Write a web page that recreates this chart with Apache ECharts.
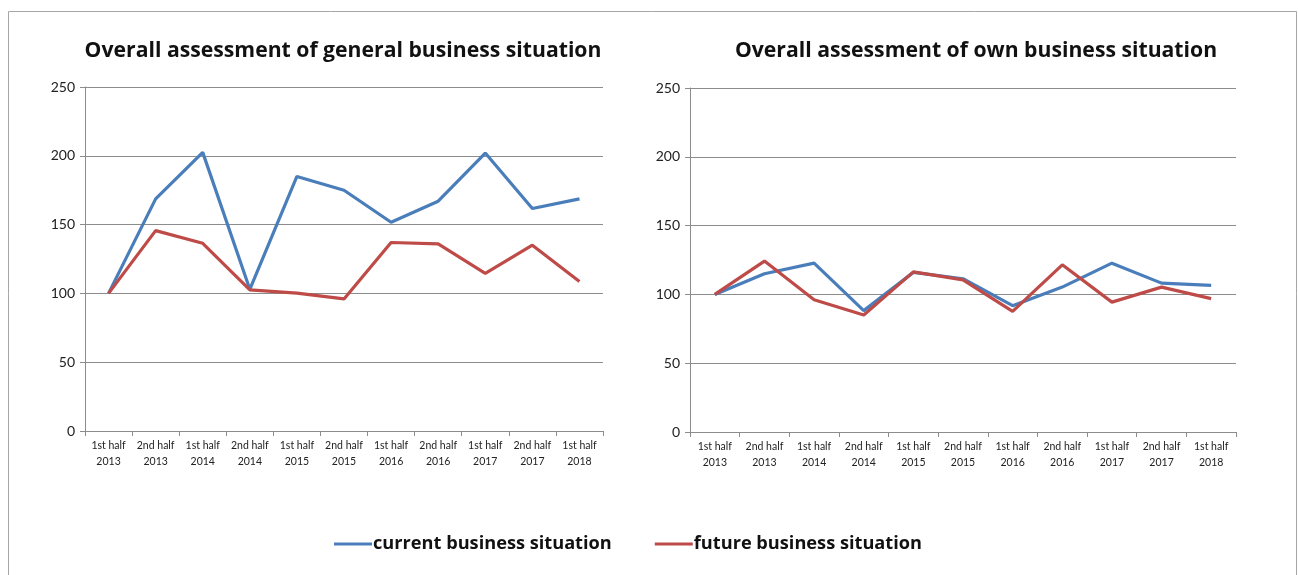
<!DOCTYPE html>
<html>
<head>
<meta charset="utf-8">
<script src="https://cdn.jsdelivr.net/npm/echarts@6/dist/echarts.min.js"></script>
<style>html,body{margin:0;padding:0;background:#fff;}#c{width:1298px;height:575px;}</style>
</head>
<body>
<div id="c"></div>
<script>
var categories = ['1st half\n2013','2nd half\n2013','1st half\n2014','2nd half\n2014','1st half\n2015','2nd half\n2015','1st half\n2016','2nd half\n2016','1st half\n2017','2nd half\n2017','1st half\n2018'];
var generalCurrent = [100, 168.7, 202.5, 103, 185, 175, 151.7, 167, 202, 161.7, 168.7];
var generalFuture = [100, 145.6, 136.4, 102.5, 100.2, 96, 137, 136, 114.6, 135, 108.7];
var ownCurrent = [100, 115, 122.7, 88.2, 116, 111.4, 91.8, 105.3, 122.7, 108.2, 106.5];
var ownFuture = [100, 124.2, 96.1, 85, 116.4, 110.6, 87.7, 121.5, 94.4, 105.3, 96.9];
var yTicks = {min: 0, max: 250, interval: 50};
var titles = ['Overall assessment of general business situation', 'Overall assessment of own business situation'];
var seriesNames = ['current business situation', 'future business situation'];

var blue = '#4a7ebb', red = '#be4b48';
var font = 'Lato, "Open Sans", sans-serif';
var tfont = '"Open Sans", sans-serif';
function xAxis(i){
  return {type:'category', gridIndex:i, data:categories, boundaryGap:true,
    axisLine:{lineStyle:{color:'#8c8c8c', width:1}},
    axisTick:{show:true, length:5, lineStyle:{color:'#8c8c8c'}},
    axisLabel:{interval:0, fontSize:10.5, lineHeight:16, color:'#222', fontFamily:font, margin:7}};
}
function yAxis(i){
  return {type:'value', gridIndex:i, min:yTicks.min, max:yTicks.max, interval:yTicks.interval,
    axisLine:{show:true, lineStyle:{color:'#8c8c8c'}},
    axisTick:{show:true, length:5, lineStyle:{color:'#8c8c8c'}},
    splitLine:{lineStyle:{color:'#8c8c8c', width:1}},
    axisLabel:{fontSize:14, color:'#222', fontFamily:font, margin:10}};
}
function line(name, data, i, color){
  return {name:name, type:'line', xAxisIndex:i, yAxisIndex:i, data:data, symbol:'none',
    lineStyle:{width:3.2, color:color}, itemStyle:{color:color}, animation:false};
}
var chart = echarts.init(document.getElementById('c'), null, {renderer:'canvas'});
chart.setOption({
  animation:false,
  backgroundColor:'#fff',
  title:[
    {text:titles[0], left:338, top:35, textAlign:'center', textStyle:{fontSize:21.2, fontWeight:'bold', color:'#111', fontFamily:tfont}},
    {text:titles[1], left:971, top:35, textAlign:'center', textStyle:{fontSize:21.2, fontWeight:'bold', color:'#111', fontFamily:tfont}}
  ],
  legend:{data:seriesNames, left:329, top:530, itemWidth:38, itemHeight:3, itemGap:43, icon:'rect',
    textStyle:{fontSize:18.2, fontWeight:'bold', color:'#111', fontFamily:tfont, padding:[0,0,0,-4]}},
  grid:[
    {left:85, right:695, top:87, bottom:144},
    {left:690, right:62, top:88, bottom:143}
  ],
  xAxis:[xAxis(0), xAxis(1)],
  yAxis:[yAxis(0), yAxis(1)],
  series:[
    line(seriesNames[0], generalCurrent, 0, blue),
    line(seriesNames[1], generalFuture, 0, red),
    line(seriesNames[0], ownCurrent, 1, blue),
    line(seriesNames[1], ownFuture, 1, red)
  ],
  graphic:[{type:'rect', shape:{x:8.5, y:11.5, width:1288, height:600}, style:{fill:'none', stroke:'#a6a6a6', lineWidth:1}, silent:true}]
});
</script>
</body>
</html>
